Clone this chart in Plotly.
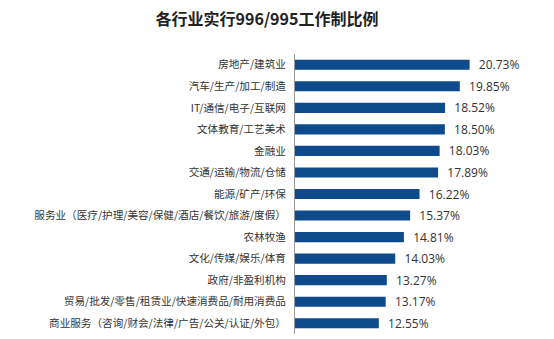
import plotly.graph_objects as go

categories = [
    "房地产/建筑业",
    "汽车/生产/加工/制造",
    "IT/通信/电子/互联网",
    "文体教育/工艺美术",
    "金融业",
    "交通/运输/物流/仓储",
    "能源/矿产/环保",
    "服务业（医疗/护理/美容/保健/酒店/餐饮/旅游/度假）",
    "农林牧渔",
    "文化/传媒/娱乐/体育",
    "政府/非盈利机构",
    "贸易/批发/零售/租赁业/快速消费品/耐用消费品",
    "商业服务（咨询/财会/法律/广告/公关/认证/外包）",
]
values = [20.73, 19.85, 18.52, 18.50, 18.03, 17.89, 16.22, 15.37, 14.81, 14.03, 13.27, 13.17, 12.55]

font_family = "Noto Sans CJK SC, Microsoft YaHei, sans-serif"

fig = go.Figure(
    go.Bar(
        x=values,
        y=categories,
        orientation="h",
        marker=dict(color="#0e4a8c", line=dict(width=0)),
        text=[f"\u00a0\u00a0{v:.2f}%" for v in values],
        textposition="outside",
        constraintext="none",
        textfont=dict(size=12, color="#333333", family="Open Sans, sans-serif"),
        cliponaxis=False,
        width=0.47,
    )
)

fig.update_layout(
    width=554,
    height=339,
    margin=dict(l=295, r=37, t=54, b=5),
    paper_bgcolor="white",
    plot_bgcolor="white",
    showlegend=False,
    title=dict(
        text="<b>各行业实行996/995工作制比例</b>",
        x=0.482,
        xanchor="center",
        y=1 - 19 / 339,
        yanchor="middle",
        font=dict(size=16, color="#222222", family=font_family),
    ),
    xaxis=dict(
        range=[5, 25],
        visible=False,
        showgrid=False,
        zeroline=False,
    ),
    yaxis=dict(
        autorange="reversed",
        showline=True,
        linecolor="#999999",
        linewidth=1,
        ticks="",
        ticklabelstandoff=6,
        tickfont=dict(size=10.6, color="#333333", family=font_family),
        showgrid=False,
    ),
)

fig.write_html("out.html")
